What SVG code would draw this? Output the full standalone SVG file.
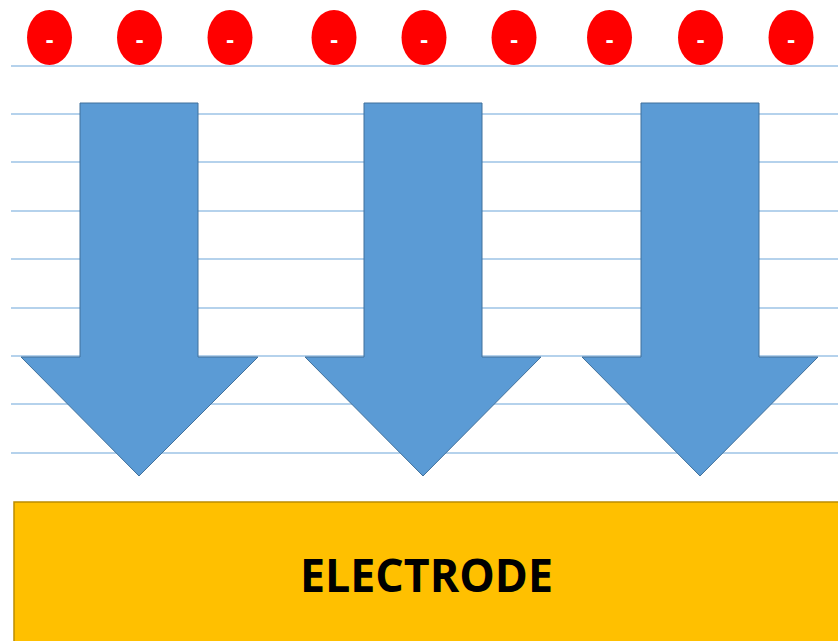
<svg xmlns="http://www.w3.org/2000/svg" width="838" height="641" viewBox="0 0 838 641">
<style>
.grid line{stroke:#9DC3E6;stroke-width:1.5}
.charge ellipse{fill:#FF0000}
.charge text{fill:#FFFFFF;font-family:"Open Sans","Liberation Sans",sans-serif;font-weight:bold;font-size:24px;text-anchor:middle}
.arrow{fill:#5B9BD5;stroke:#41719C;stroke-width:1}
.electrode rect{fill:#FFC000;stroke:#BC8C00;stroke-width:1.5}
.electrode text{fill:#000000;font-family:"Open Sans","Liberation Sans",sans-serif;font-weight:bold;font-size:47px;text-anchor:middle}
</style>
<rect width="838" height="641" fill="#FFFFFF"/>
<g id="grid" class="grid">
<line x1="11" y1="66" x2="838" y2="66"/>
<line x1="11" y1="114" x2="838" y2="114"/>
<line x1="11" y1="162" x2="838" y2="162"/>
<line x1="11" y1="211" x2="838" y2="211"/>
<line x1="11" y1="259" x2="838" y2="259"/>
<line x1="11" y1="308" x2="838" y2="308"/>
<line x1="11" y1="356" x2="838" y2="356"/>
<line x1="11" y1="404" x2="838" y2="404"/>
<line x1="11" y1="453" x2="838" y2="453"/>
</g>
<g id="charges">
<g id="charge1" class="charge"><ellipse cx="49.5" cy="37.5" rx="22.5" ry="27.5"/><text x="49.5" y="48">-</text></g>
<g id="charge2" class="charge"><ellipse cx="139.5" cy="37.5" rx="22.5" ry="27.5"/><text x="139.5" y="48">-</text></g>
<g id="charge3" class="charge"><ellipse cx="230" cy="37.5" rx="22.5" ry="27.5"/><text x="230" y="48">-</text></g>
<g id="charge4" class="charge"><ellipse cx="334" cy="37.5" rx="22.5" ry="27.5"/><text x="334" y="48">-</text></g>
<g id="charge5" class="charge"><ellipse cx="424" cy="37.5" rx="22.5" ry="27.5"/><text x="424" y="48">-</text></g>
<g id="charge6" class="charge"><ellipse cx="514" cy="37.5" rx="22.5" ry="27.5"/><text x="514" y="48">-</text></g>
<g id="charge7" class="charge"><ellipse cx="609.5" cy="37.5" rx="22.5" ry="27.5"/><text x="609.5" y="48">-</text></g>
<g id="charge8" class="charge"><ellipse cx="700.5" cy="37.5" rx="22.5" ry="27.5"/><text x="700.5" y="48">-</text></g>
<g id="charge9" class="charge"><ellipse cx="791" cy="37.5" rx="22.5" ry="27.5"/><text x="791" y="48">-</text></g>
</g>
<g id="arrows">
<g id="arrow1"><polygon class="arrow" points="80,103 198,103 198,357 258,357 139,476 21,357 80,357"/></g>
<g id="arrow2"><polygon class="arrow" points="364,103 482,103 482,357 541,357 423,476 305,357 364,357"/></g>
<g id="arrow3"><polygon class="arrow" points="641,103 759,103 759,357 818,357 700,476 582,357 641,357"/></g>
</g>
<g id="electrode" class="electrode">
<rect x="14" y="502" width="830" height="145"/>
<text x="426.5" y="592" textLength="253" lengthAdjust="spacingAndGlyphs">ELECTRODE</text>
</g>
</svg>
